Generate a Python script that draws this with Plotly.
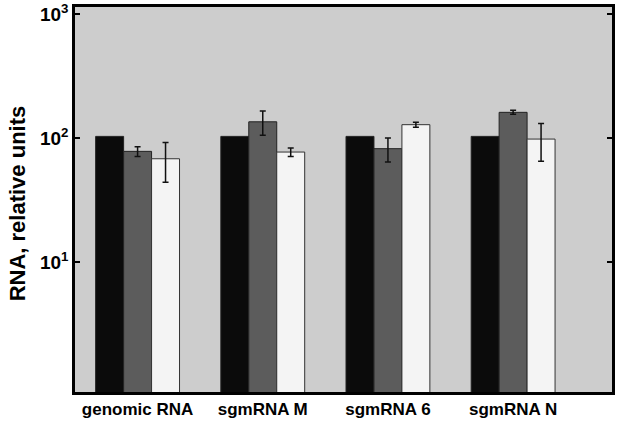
import plotly.graph_objects as go

categories = ["genomic RNA", "sgmRNA M", "sgmRNA 6", "sgmRNA N"]
series_black = [103, 103, 103, 103]
series_dark = [78, 135, 82, 161]
series_dark_err = [7, 30, 18, 6]
series_white = [68, 77, 128, 98]
series_white_err = [24, 6, 6, 33]
ytick_vals = [10, 100, 1000]

xpos = list(range(len(categories)))

fig = go.Figure()
fig.add_trace(go.Bar(x=xpos, y=series_black, marker=dict(color="#0b0b0b", line=dict(color="#222", width=1))))
fig.add_trace(go.Bar(x=xpos, y=series_dark, marker=dict(color="#5c5c5c", line=dict(color="#222", width=1)),
                     error_y=dict(type="data", array=series_dark_err, color="#111", thickness=1.5, width=3)))
fig.add_trace(go.Bar(x=xpos, y=series_white, marker=dict(color="#f4f4f4", line=dict(color="#333", width=1)),
                     error_y=dict(type="data", array=series_white_err, color="#111", thickness=1.5, width=3)))

fig.update_layout(
    width=617, height=426,
    margin=dict(l=75, r=5, t=7, b=34),
    paper_bgcolor="white", plot_bgcolor="#cdcdcd",
    barmode="group", bargap=0.33, bargroupgap=0,
    showlegend=False,
    font=dict(family="Liberation Sans, Arial, sans-serif", color="black"),
)
fig.update_xaxes(
    range=[-0.5, 3.79], tickvals=xpos, ticktext=["<b>%s</b>" % c for c in categories],
    tickfont=dict(size=17), ticks="", showgrid=False, zeroline=False, automargin=False,
    showline=True, linecolor="black", linewidth=2.5, mirror=True,
)
fig.update_yaxes(
    type="log", range=[-0.048, 3.056], tickvals=ytick_vals,
    ticktext=["<b>10<sup>1</sup></b>", "<b>10<sup>2</sup></b>", "<b>10<sup>3</sup></b>"],
    tickfont=dict(size=19), ticks="inside", ticklen=5, tickwidth=2, tickcolor="black",
    ticklabeloverflow="allow",
    showgrid=False, zeroline=False, automargin=False,
    showline=True, linecolor="black", linewidth=2.5, mirror="ticks",
)
fig.add_annotation(
    text="<b>RNA, relative units</b>", textangle=-90, font=dict(size=22),
    xref="paper", yref="paper", x=(17 - 75) / 537, y=0.49,
    xanchor="center", yanchor="middle", showarrow=False,
)

fig.write_html("out.html", config={"displayModeBar": False},
               post_script="document.body.style.margin='0';")
